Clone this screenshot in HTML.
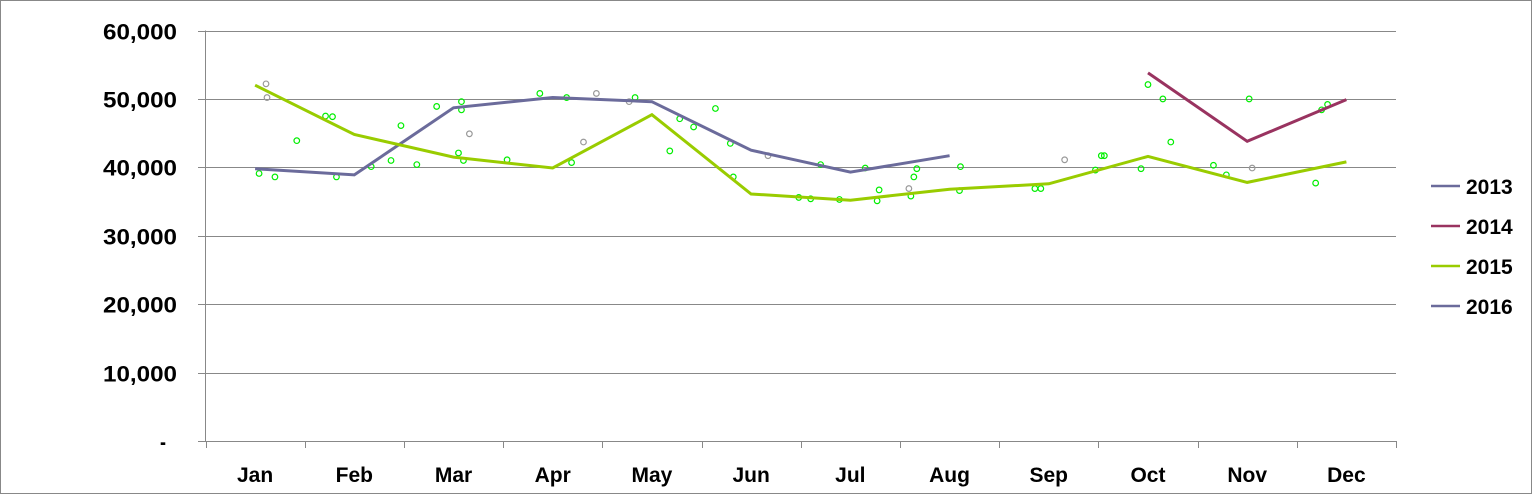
<!DOCTYPE html>
<html><head><meta charset="utf-8"><style>
html,body{margin:0;padding:0;background:#fff}
svg{display:block}
text{font-family:"Liberation Sans",sans-serif;font-weight:bold;fill:#000}
</style></head><body>
<svg id="chart" width="1532" height="494" viewBox="0 0 1532 494" xmlns="http://www.w3.org/2000/svg">
<rect x="0.5" y="0.5" width="1531" height="493" fill="#fff" stroke="#888"/>
<g id="grid"></g><g id="axes"></g><g id="pts"></g><g id="lines"></g><g id="legend"></g>
</svg>
<script>
const months=["Jan","Feb","Mar","Apr","May","Jun","Jul","Aug","Sep","Oct","Nov","Dec"];
const yTicks=[0,10000,20000,30000,40000,50000,60000];
const yTickLabels=["-","10,000","20,000","30,000","40,000","50,000","60,000"];
const s2013=[39800,38900,48700,50200,49600,42500,39300,41700,null,null,null,null];
const s2014=[null,null,null,null,null,null,null,null,null,53800,43800,49900];
const s2015=[52000,44800,41500,39900,47700,36100,35200,36800,37600,41600,37800,40800];
const s2016=[null,null,null,null,null,null,null,null,null,null,null,null];
const ptMonth=[0.04,0.11,0.12,0.2,0.42,0.71,0.78,0.82,1.17,1.37,1.47,1.63,1.83,2.05,2.08,2.08,2.1,2.16,2.54,2.87,3.14,3.19,3.31,3.44,3.77,3.83,4.18,4.28,4.42,4.64,4.79,4.82,5.17,5.48,5.6,5.7,5.89,6.15,6.27,6.29,6.59,6.61,6.64,6.67,7.1,7.11,7.86,7.92,8.16,8.47,8.53,8.56,8.93,9.0,9.15,9.23,9.66,9.79,10.02,10.05,10.69,10.75,10.81];
const ptValue=[39100,52200,50200,38600,43900,47500,47400,38600,40100,41000,46100,40400,48900,42100,49600,48400,41000,44900,41100,50800,50200,40700,43700,50800,49600,50200,42400,47100,45900,48600,43500,38600,41700,35600,35400,40400,35300,39900,35100,36700,36900,35800,38600,39800,36600,40100,36900,36900,41100,39600,41700,41700,39800,52100,50000,43700,40300,38900,50000,39900,37700,48400,49200];
const ptGray=[0,1,1,0,0,0,0,0,0,0,0,0,0,0,0,0,0,1,0,0,0,0,1,1,1,0,0,0,0,0,0,0,1,0,0,0,0,0,0,0,1,0,0,0,0,0,0,0,1,0,0,0,0,0,0,0,0,0,0,1,0,0,0];
const NS="http://www.w3.org/2000/svg";
const L=205.5,R=1396,T=30.5,B=441;
const xc=i=>L+(i+0.5)*(R-L)/12;
const yv=v=>B-(v/60000)*(B-T);
function mk(tag,attrs,parent){const e=document.createElementNS(NS,tag);for(const k in attrs)e.setAttribute(k,attrs[k]);document.getElementById(parent).appendChild(e);return e;}
yTicks.forEach((v,i)=>{
 const y=Math.round(yv(v))+0.5;
 const g=mk("line",{x1:198,x2:R,y1:y,y2:y,stroke:"#888","stroke-width":1},"grid");
 
 
 const isDash=yTickLabels[i]==="-";
 const t=mk("text",{x:isDash?166:177,y:y+8,"text-anchor":"end","font-size":22,"textLength":isDash?6:74,"lengthAdjust":"spacingAndGlyphs"},"axes");
 t.textContent=yTickLabels[i];
 
 
});
const ax=mk("line",{x1:L,x2:L,y1:T,y2:B,stroke:"#888"},"axes");


for(let i=0;i<=12;i++){
 const x=Math.round(L+i*(R-L)/12)+0.5;
 const tk=mk("line",{x1:x,x2:x,y1:B,y2:B+7,stroke:"#888"},"axes");
 
 
}
months.forEach((m,i)=>{
 const t=mk("text",{x:xc(i),y:482,"text-anchor":"middle","font-size":21},"axes");
 t.textContent=m;
 
 
});
ptMonth.forEach((m,i)=>{
 const c=mk("circle",{cx:xc(m),cy:yv(ptValue[i]),r:2.8,fill:"none",stroke:ptGray[i]?"#999":"#00ee00","stroke-width":1.2},"pts");
 
 
});
const series=[["2013",s2013,"#6b6b9b"],["2014",s2014,"#993360"],["2015",s2015,"#99cc00"],["2016",s2016,"#6b6b9b"]];
series.forEach(([name,data,col],si)=>{
 let d="",pen=false;
 data.forEach((v,i)=>{if(v==null){pen=false;return;}d+=(pen?"L":"M")+xc(i).toFixed(1)+" "+yv(v).toFixed(1)+" ";pen=true;});
 if(d){const p=mk("path",{d:d,fill:"none",stroke:col,"stroke-width":3,"stroke-linejoin":"miter"},"lines");
 
 }
 const ly=186+si*40;
 const ll=mk("line",{x1:1431,x2:1460,y1:ly,y2:ly,stroke:col,"stroke-width":2.5},"legend");
 
 
 const lt=mk("text",{x:1466,y:ly+8,"font-size":21},"legend");
 lt.textContent=name;
 
 
});
</script>
</body></html>
